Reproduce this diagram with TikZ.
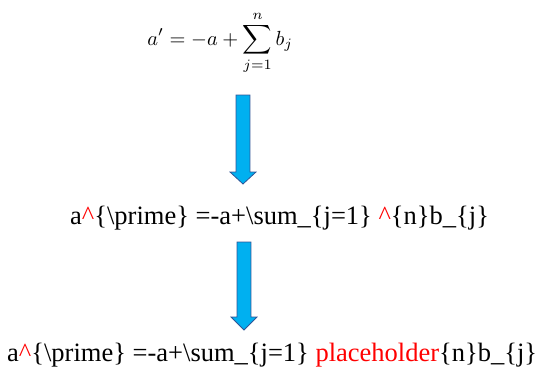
\documentclass[tikz,border=0pt]{standalone}
\usepackage{fontspec}
\setmainfont{Liberation Serif}
\definecolor{arrowfill}{RGB}{0,176,240}
\definecolor{arrowline}{RGB}{47,85,151}
\newcommand{\crt}{{\color{red}\char`\^}}
\newcommand{\bsl}{\textbackslash}
\begin{document}
\begin{tikzpicture}[x=1bp,y=1bp,
  codetext/.style={font=\fontsize{26.6}{30}\selectfont, anchor=base west, inner sep=0},
  blockarrow/.style={fill=arrowfill, draw=arrowline, line width=0.8bp, line join=miter}]
\useasboundingbox (0,0) rectangle (536,370);
\node[anchor=base west, inner sep=0, scale=2.05, transform shape] (f1) at (147,325)
  {$\displaystyle a' = -a + \sum_{j=1}^{n} b_j$};
\node[codetext] (f2) at (70,146)
  {a\crt\{\bsl prime\} =-a+\bsl sum\_\{j=1\} \crt\{n\}b\_\{j\}};
\node[codetext] (f3) at (7,9)
  {a\crt\{\bsl prime\} =-a+\bsl sum\_\{j=1\} {\color{red}placeholder}\{n\}b\_\{j\}};
% arrow 1
\coordinate (a1top) at (243,275);
\coordinate (a1tip) at (243,186);
\draw[blockarrow] ([xshift=-7]a1top) -- ([xshift=7]a1top) -- ([xshift=7,yshift=12]a1tip)
  -- ([xshift=13,yshift=12]a1tip) -- (a1tip) -- ([xshift=-13,yshift=12]a1tip)
  -- ([xshift=-7,yshift=12]a1tip) -- cycle;
% arrow 2
\coordinate (a2top) at (244,128);
\coordinate (a2tip) at (244,40);
\draw[blockarrow] ([xshift=-7]a2top) -- ([xshift=7]a2top) -- ([xshift=7,yshift=13]a2tip)
  -- ([xshift=13,yshift=13]a2tip) -- (a2tip) -- ([xshift=-13,yshift=13]a2tip)
  -- ([xshift=-7,yshift=13]a2tip) -- cycle;
\end{tikzpicture}
\end{document}
